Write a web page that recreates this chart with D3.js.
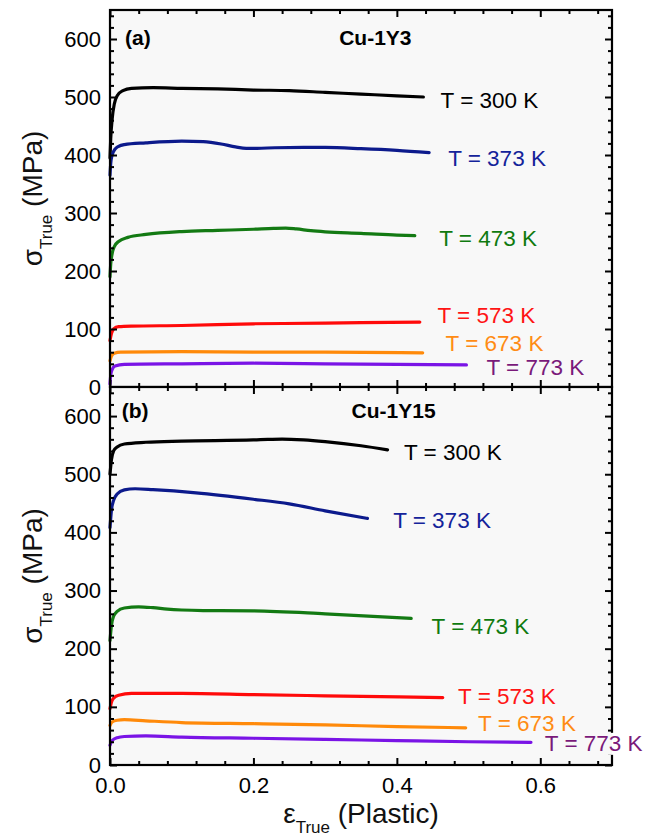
<!DOCTYPE html>
<html>
<head>
<meta charset="utf-8">
<script src="https://cdn.jsdelivr.net/npm/d3@7"></script>
<style>
  html, body { margin: 0; padding: 0; background: #ffffff; }
  svg { display: block; font-family: "Liberation Sans", Arial, sans-serif; }
</style>
</head>
<body>
<svg id="chart" width="658" height="837"></svg>
<script>
// ---- data: true stress (MPa) vs true plastic strain ----
const temperatures = ["T = 300 K", "T = 373 K", "T = 473 K", "T = 573 K", "T = 673 K", "T = 773 K"];

// Cu-1Y3
const cu1y3_300 = [[0,395],[0.001,428],[0.003,462],[0.006,488],[0.01,502],[0.018,511],[0.03,515],[0.06,516],[0.1,515],[0.15,514],[0.2,512],[0.25,511],[0.3,508],[0.35,505],[0.4,502],[0.437,500]];
const cu1y3_373 = [[0,365],[0.001,385],[0.003,400],[0.007,410],[0.012,415],[0.02,418],[0.05,421],[0.1,424],[0.13,423],[0.155,419],[0.175,414],[0.19,411.5],[0.205,411.5],[0.23,412.5],[0.27,413],[0.3,413],[0.35,411],[0.4,408],[0.445,404]];
const cu1y3_473 = [[0,190],[0.001,212],[0.003,230],[0.006,242],[0.012,251],[0.025,258],[0.05,263],[0.1,268],[0.15,270],[0.2,272],[0.228,273.5],[0.245,274],[0.26,272.5],[0.28,269.5],[0.3,267.5],[0.35,265],[0.4,262],[0.425,261]];
const cu1y3_573 = [[0,80],[0.002,92],[0.005,100],[0.012,104],[0.03,105],[0.1,106],[0.2,109],[0.3,110],[0.35,111],[0.432,112]];
const cu1y3_673 = [[0,45],[0.002,53],[0.006,58],[0.015,60],[0.1,61],[0.2,60],[0.3,60],[0.436,59]];
const cu1y3_773 = [[0,5],[0.001,20],[0.003,30],[0.007,36],[0.02,39],[0.1,40],[0.2,41],[0.3,40],[0.4,39],[0.497,38]];

// Cu-1Y15
const cu1y15_300 = [[0,500],[0.002,525],[0.005,540],[0.01,547],[0.02,552],[0.05,555],[0.1,557],[0.2,559],[0.22,560],[0.24,560.5],[0.27,559],[0.3,556],[0.35,549],[0.387,542]];
const cu1y15_373 = [[0,408],[0.002,438],[0.005,455],[0.01,466],[0.02,473],[0.035,475],[0.06,473.5],[0.12,468],[0.2,457],[0.25,449],[0.3,437],[0.359,424]];
const cu1y15_473 = [[0,214],[0.002,240],[0.005,256],[0.01,264],[0.02,270],[0.04,272],[0.06,270.5],[0.08,268],[0.1,266.5],[0.13,265.5],[0.2,265],[0.3,260],[0.42,252]];
const cu1y15_573 = [[0,97],[0.002,108],[0.005,115],[0.012,120],[0.03,123],[0.1,123],[0.2,121],[0.3,119],[0.464,116]];
const cu1y15_673 = [[0,68],[0.003,74],[0.01,77],[0.02,78],[0.05,76],[0.1,73],[0.2,71],[0.3,69],[0.4,66],[0.496,64]];
const cu1y15_773 = [[0,34],[0.003,42],[0.01,47],[0.02,49],[0.05,50],[0.1,48],[0.2,46],[0.3,44],[0.4,42],[0.5,40],[0.587,39]];

// temperature label anchors (strain, stress) beside each curve end
const cu1y3_labelAt  = [[0.461,495],[0.4715,395],[0.459,257],[0.4567,124],[0.468,76],[0.525,34.5]];
const cu1y15_labelAt = [[0.41,539],[0.3948,421],[0.4484,239],[0.4854,119],[0.5133,72.7],[0.6063,38.3]];

// axis ticks
const strainMajor = [0, 0.2, 0.4, 0.6];
const strainLabels = ["0.0", "0.2", "0.4", "0.6"];
const strainMinor = [0.04,0.08,0.12,0.16,0.24,0.28,0.32,0.36,0.44,0.48,0.52,0.56,0.64,0.68];
const stressMajor = [0, 100, 200, 300, 400, 500, 600];
const stressMinor = [20,40,60,80,120,140,160,180,220,240,260,280,320,340,360,380,420,440,460,480,520,540,560,580,620,640];

// panel titles
const panelTags = ["(a)", "(b)"];
const panelNames = ["Cu-1Y3", "Cu-1Y15"];
const panelTagAt = [[0.0209,590],[0.0163,597]];
const panelNameAt = [[0.3196,590],[0.3369,597]];

// ---- styles ----
const lineColors  = ["#000000", "#0c1a8c", "#137a13", "#ff0a0a", "#ff8a0a", "#7a14e6"];
const labelColors = ["#000000", "#14239a", "#0f7a0f", "#ff1414", "#ff8c14", "#7a1a7a"];
const plotBg = "#f8f8f8";

const panelSeries = [
  [cu1y3_300, cu1y3_373, cu1y3_473, cu1y3_573, cu1y3_673, cu1y3_773],
  [cu1y15_300, cu1y15_373, cu1y15_473, cu1y15_573, cu1y15_673, cu1y15_773]
];
const panelLabelAt = [cu1y3_labelAt, cu1y15_labelAt];

// ---- layout ----
const svg = d3.select("#chart");
const plotLeft = 110, plotRight = 612;
const panelRanges = [[10, 387], [387, 765]];

const x = d3.scaleLinear().domain([0, 0.7]).range([plotLeft, plotRight]);

const TICK_MAJOR = 7, TICK_MINOR = 4;

panelRanges.forEach((rng, p) => {
  const [top, bottom] = rng;
  const y = d3.scaleLinear().domain([0, 650]).range([bottom, top]);
  const g = svg.append("g");

  // plot background
  g.append("rect")
    .attr("x", plotLeft).attr("y", top)
    .attr("width", plotRight - plotLeft).attr("height", bottom - top)
    .attr("fill", plotBg);

  // curves
  const line = d3.line()
    .x(d => x(d[0]))
    .y(d => y(d[1]))
    .curve(d3.curveMonotoneX);

  panelSeries[p].forEach((series, i) => {
    g.append("path")
      .datum(series)
      .attr("d", line)
      .attr("fill", "none")
      .attr("stroke", lineColors[i])
      .attr("stroke-width", 3.2)
      .attr("stroke-linecap", "round")
      .attr("stroke-linejoin", "round");
  });

  // panel tag and alloy name
  g.append("text")
    .attr("x", x(panelTagAt[p][0])).attr("y", y(panelTagAt[p][1]))
    .attr("font-size", 21).attr("font-weight", "bold")
    .text(panelTags[p]);
  g.append("text")
    .attr("x", x(panelNameAt[p][0])).attr("y", y(panelNameAt[p][1]))
    .attr("font-size", 21).attr("font-weight", "bold")
    .text(panelNames[p]);

  // helper to style axes
  const styleAxis = sel => {
    sel.select(".domain").remove();
    sel.selectAll(".tick line").attr("stroke", "#000").attr("stroke-width", 2);
    sel.selectAll(".tick text").attr("font-size", 22).attr("fill", "#000")
      .attr("font-family", "'Liberation Sans', Arial, sans-serif");
  };

  // left axis (labels + inward ticks)
  g.append("g").attr("transform", `translate(${plotLeft},0)`)
    .call(d3.axisLeft(y).tickValues(stressMajor).tickSize(-TICK_MAJOR).tickPadding(9).tickFormat(d3.format("d")))
    .call(styleAxis);
  g.append("g").attr("transform", `translate(${plotLeft},0)`)
    .call(d3.axisLeft(y).tickValues(stressMinor).tickSize(-TICK_MINOR).tickFormat(""))
    .call(styleAxis);

  // right axis (mirror ticks)
  g.append("g").attr("transform", `translate(${plotRight},0)`)
    .call(d3.axisRight(y).tickValues(stressMajor).tickSize(-TICK_MAJOR).tickFormat(""))
    .call(styleAxis);
  g.append("g").attr("transform", `translate(${plotRight},0)`)
    .call(d3.axisRight(y).tickValues(stressMinor).tickSize(-TICK_MINOR).tickFormat(""))
    .call(styleAxis);

  // top axis (inward ticks)
  g.append("g").attr("transform", `translate(0,${top})`)
    .call(d3.axisTop(x).tickValues(strainMajor).tickSize(-TICK_MAJOR).tickFormat(""))
    .call(styleAxis);
  g.append("g").attr("transform", `translate(0,${top})`)
    .call(d3.axisTop(x).tickValues(strainMinor).tickSize(-TICK_MINOR).tickFormat(""))
    .call(styleAxis);

  // bottom axis (inward ticks, labels only on the lower panel)
  const bottomMajor = d3.axisBottom(x).tickValues(strainMajor).tickSize(-TICK_MAJOR).tickPadding(12);
  bottomMajor.tickFormat(p === 1 ? ((d, i) => strainLabels[i]) : "");
  g.append("g").attr("transform", `translate(0,${bottom})`)
    .call(bottomMajor)
    .call(styleAxis);
  g.append("g").attr("transform", `translate(0,${bottom})`)
    .call(d3.axisBottom(x).tickValues(strainMinor).tickSize(-TICK_MINOR).tickFormat(""))
    .call(styleAxis);

  // frame
  g.append("rect")
    .attr("x", plotLeft).attr("y", top)
    .attr("width", plotRight - plotLeft).attr("height", bottom - top)
    .attr("fill", "none").attr("stroke", "#000").attr("stroke-width", 2.2);

  // temperature labels, drawn over the frame on an opaque backing
  panelLabelAt[p].forEach((pos, i) => {
    const lg = g.append("g");
    const t = lg.append("text")
      .attr("x", x(pos[0]))
      .attr("y", y(pos[1]))
      .attr("dy", "0.36em")
      .attr("font-size", 22.5)
      .attr("fill", labelColors[i])
      .text(temperatures[i]);
    const bb = t.node().getBBox();
    if (bb.x + bb.width > plotRight - 4) {
      const y0 = bb.y + 2, h = bb.height - 3;
      lg.insert("rect", "text")
        .attr("x", bb.x - 2).attr("y", y0)
        .attr("width", plotRight - (bb.x - 2)).attr("height", h)
        .attr("fill", plotBg);
      lg.insert("rect", "text")
        .attr("x", plotRight).attr("y", y0)
        .attr("width", bb.x + bb.width + 2 - plotRight).attr("height", h)
        .attr("fill", "#ffffff");
    }
  });

  // y-axis title
  const yt = g.append("text")
    .attr("transform", `translate(42,${(top + bottom) / 2}) rotate(-90)`)
    .attr("text-anchor", "middle")
    .attr("font-size", 28)
    .attr("fill", "#111");
  yt.append("tspan").text("σ");
  yt.append("tspan").attr("font-size", 17).attr("dy", 10).text("True");
  yt.append("tspan").attr("dy", -10).text(" (MPa)");
});

// x-axis title
const xt = svg.append("text")
  .attr("x", (plotLeft + plotRight) / 2)
  .attr("y", 823)
  .attr("text-anchor", "middle")
  .attr("font-size", 28)
  .attr("fill", "#111");
xt.append("tspan").text("ε");
xt.append("tspan").attr("font-size", 17).attr("dy", 10).text("True");
xt.append("tspan").attr("dy", -10).text(" (Plastic)");
</script>
</body>
</html>
